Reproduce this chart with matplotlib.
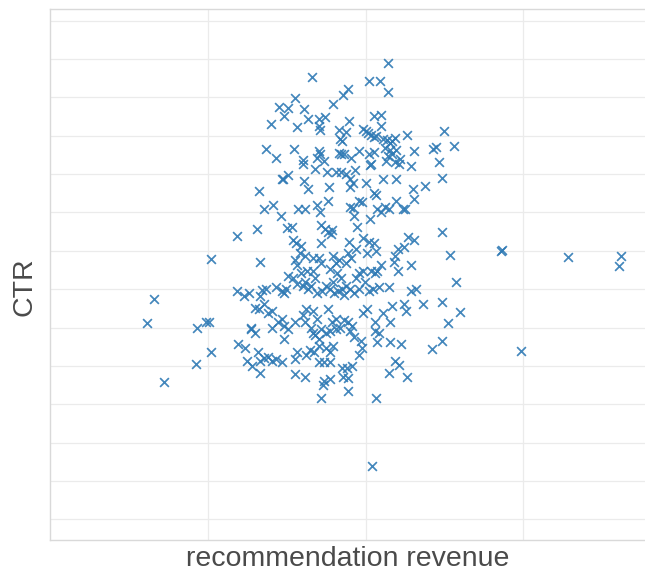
import matplotlib
matplotlib.use("Agg")
import matplotlib.pyplot as plt

# recommendation revenue per item
revenue = [
    214.4, 166.3, 202.4, 208.9, 214.1, 189.0, 185.4, 155.0, 179.3, 144.8,
    150.6, 161.0, 148.5, 163.4, 140.1, 156.6, 170.7, 174.1, 170.2, 171.0,
    189.3, 205.0, 209.9, 209.7, 198.4, 200.0, 201.6, 203.4, 205.2, 206.8,
    183.0, 187.7, 183.8, 185.1, 211.0, 213.3, 215.2, 216.5, 218.6, 226.4,
    249.4, 255.9, 242.4, 244.7, 230.8, 137.0, 143.3, 154.5, 170.2, 171.2,
    169.2, 160.0, 160.5, 173.9, 183.3, 184.3, 186.4, 190.6, 195.8, 202.4,
    205.5, 212.5, 215.2, 213.9, 216.5, 219.1, 213.1, 218.3, 221.7, 221.2,
    203.4, 228.8, 246.3, 248.1, 237.6, 229.8, 230.6, 146.7, 147.5, 151.1,
    161.0, 163.7, 167.6, 175.2, 181.2, 184.3, 187.7, 193.5, 190.1, 192.2,
    189.8, 200.3, 210.7, 219.1, 176.5, 202.9, 205.0, 206.5, 132.5, 135.4,
    141.2, 146.1, 157.1, 161.6, 168.9, 171.2, 175.9, 189.8, 192.2, 196.1,
    197.6, 192.4, 202.6, 207.3, 209.9, 212.5, 214.6, 219.3, 223.5, 224.8,
    118.2, 131.2, 150.3, 153.2, 172.0, 174.1, 176.2, 178.6, 177.8, 171.8,
    154.0, 156.1, 159.2, 189.3, 194.8, 198.2, 202.1, 205.0, 206.8, 220.4,
    224.3, 226.7, 230.8, 248.4, 253.3, 286.5, 285.9, 328.1, 361.6, 360.8,
    102.0, 133.3, 155.3, 156.3, 158.4, 161.6, 166.8, 170.7, 172.0, 177.3,
    179.3, 181.4, 183.0, 189.0, 190.8, 187.7, 194.2, 200.8, 218.3, 217.8,
    220.7, 229.0, 203.4, 206.0, 207.3, 209.9, 257.5, 231.9, 228.5, 214.6,
    198.2, 118.2, 126.3, 123.1, 134.1, 132.8, 136.7, 143.3, 147.2, 148.5,
    149.8, 154.2, 156.3, 160.3, 161.6, 163.7, 165.5, 168.1, 169.4, 172.3,
    174.6, 177.3, 179.9, 182.5, 185.1, 186.4, 187.7, 190.3, 192.9, 195.6,
    199.5, 202.1, 204.7, 208.6, 184.6, 182.0, 179.3, 194.2, 195.6, 159.0,
    162.9, 151.1, 166.8, 130.2, 132.3, 135.4, 138.0, 140.7, 127.6, 130.2,
    127.1, 140.7, 144.6, 147.2, 148.5, 151.1, 148.5, 155.0, 160.3, 162.1,
    166.8, 169.4, 175.9, 178.6, 181.2, 183.8, 186.4, 189.0, 191.6, 198.2,
    200.8, 161.6, 165.5, 166.8, 168.1, 172.0, 170.7, 174.6, 177.3, 181.2,
    211.2, 215.2, 206.0, 216.5, 224.3, 225.6, 236.1, 248.6, 260.1, 252.3,
    206.0, 208.6, 207.3, 215.2, 222.5, 190.3, 192.9, 196.9, 197.6, 196.1,
    119.2, 123.7, 125.0, 128.1, 131.5, 133.3, 135.4, 138.0, 140.7, 143.3,
    147.2, 132.8, 155.0, 156.3, 162.1, 164.7, 167.3, 170.7, 174.6, 177.3,
    179.3, 170.2, 173.3, 177.3, 185.1, 188.5, 191.6, 155.0, 161.3, 173.3,
    177.3, 173.1, 185.6, 189.0, 189.0, 171.8, 206.8, 214.9, 218.3, 221.2,
    226.1, 241.8, 248.4, 65.6, 61.4, 93.3, 99.1, 100.7, 102.0, 92.8,
    72.4, 298.3, 204.2,
]

# click-through rate (%) per item
ctr = [
    11.90, 11.52, 11.42, 11.42, 11.14, 11.22, 11.06, 10.99, 10.82, 10.75,
    10.71, 10.70, 10.52, 10.44, 10.30, 10.22, 10.44, 10.49, 10.25, 10.15,
    10.39, 10.52, 10.55, 10.25, 10.18, 10.13, 10.06, 10.01, 9.96, 9.99,
    10.14, 10.09, 9.91, 9.87, 9.91, 9.89, 9.82, 9.87, 9.93, 10.01,
    10.11, 9.74, 9.65, 9.70, 9.60, 9.65, 9.42, 9.66, 9.61, 9.51,
    9.42, 9.37, 9.27, 9.34, 9.55, 9.51, 9.53, 9.42, 9.61, 9.53,
    9.58, 9.68, 9.63, 9.48, 9.53, 9.63, 9.34, 9.32, 9.39, 9.25,
    9.25, 9.20, 9.32, 8.90, 8.69, 8.60, 8.36, 8.86, 8.86, 8.98,
    8.82, 8.60, 9.13, 9.05, 9.05, 9.04, 9.01, 9.10, 8.86, 8.77,
    8.67, 8.77, 8.88, 8.88, 8.67, 9.23, 8.51, 8.45, 8.56, 8.10,
    8.19, 7.91, 8.08, 8.08, 8.19, 8.00, 8.29, 8.15, 8.12, 8.29,
    8.27, 7.91, 7.83, 8.10, 8.02, 8.15, 8.08, 8.31, 8.10, 8.08,
    7.38, 7.56, 7.60, 7.62, 7.67, 7.57, 7.48, 7.55, 7.43, 7.19,
    7.29, 7.21, 7.12, 7.24, 7.62, 7.34, 7.24, 7.19, 7.00, 7.05,
    7.10, 7.35, 7.29, 7.48, 6.89, 7.02, 6.99, 6.83, 6.86, 6.59,
    6.79, 6.71, 6.76, 6.62, 6.95, 6.86, 6.81, 6.81, 6.67, 6.52,
    6.86, 6.67, 6.76, 6.95, 6.81, 6.67, 7.05, 6.95, 6.86, 6.71,
    6.48, 6.62, 6.48, 6.43, 6.48, 6.62, 6.19, 6.00, 5.95, 6.05,
    6.48, 5.95, 5.90, 5.81, 5.97, 5.81, 6.00, 6.05, 5.95, 5.90,
    6.00, 6.28, 6.14, 6.09, 6.19, 6.00, 6.09, 6.28, 5.90, 5.95,
    6.09, 6.00, 5.90, 5.95, 6.00, 5.85, 6.09, 6.00, 5.90, 6.00,
    6.19, 5.95, 6.00, 6.05, 6.28, 6.43, 6.19, 6.28, 6.43, 6.43,
    6.48, 6.33, 6.48, 5.52, 5.47, 5.62, 5.38, 5.43, 4.95, 4.85,
    5.00, 5.00, 5.14, 5.23, 5.04, 4.95, 4.71, 5.14, 5.33, 5.47,
    5.43, 5.23, 5.47, 5.14, 5.23, 5.00, 5.19, 5.14, 5.04, 5.38,
    5.47, 5.14, 5.00, 4.85, 4.80, 4.95, 4.71, 4.85, 4.90, 4.95,
    5.38, 5.14, 5.14, 5.57, 5.62, 5.43, 5.60, 5.66, 5.41, 5.12,
    4.90, 4.85, 4.61, 4.61, 4.58, 4.90, 4.76, 4.66, 4.47, 4.28,
    4.58, 4.47, 4.14, 3.99, 4.37, 4.14, 4.20, 4.23, 4.14, 4.18,
    4.09, 3.82, 4.18, 4.37, 4.28, 4.42, 4.37, 4.52, 4.47, 4.37,
    4.52, 4.09, 4.09, 4.09, 3.94, 3.94, 3.99, 3.78, 3.72, 3.61,
    3.66, 3.50, 3.71, 3.69, 3.35, 3.16, 3.16, 3.82, 4.14, 4.01,
    3.71, 4.44, 4.64, 5.74, 5.12, 5.00, 5.14, 5.14, 4.37, 4.06,
    3.58, 4.40, 1.38,
]

x_grid = [100, 200, 300]
y_grid = list(range(0, 14))

fig = plt.figure(figsize=(6.45, 5.77), dpi=100)
ax = fig.add_axes([0.0775, 0.064, 0.9225, 0.921])

ax.scatter(revenue, ctr, marker="x", s=40, linewidths=1.25,
           color="#2f7ab5", alpha=0.9, zorder=3)

ax.set_xlim(0, 377)
ax.set_ylim(-0.54, 13.31)
ax.set_xticks(x_grid)
ax.set_yticks(y_grid)
ax.tick_params(length=0, labelbottom=False, labelleft=False)
ax.grid(True, color="#ebebeb", linewidth=0.9, zorder=0)
ax.set_axisbelow(True)

for side in ("left", "bottom", "top"):
    ax.spines[side].set_color("#d9d9d9")
    ax.spines[side].set_linewidth(1.0)
ax.spines["right"].set_visible(False)

label_font = dict(family=["Liberation Sans", "DejaVu Sans"], size=20.5, color="#4a4a4a")
ax.set_xlabel("recommendation revenue", **label_font)
ax.set_ylabel("CTR", **label_font)
ax.xaxis.set_label_coords(0.5, -0.012)
ax.yaxis.set_label_coords(-0.021, 0.477)

fig.savefig("out.png", dpi=100)
